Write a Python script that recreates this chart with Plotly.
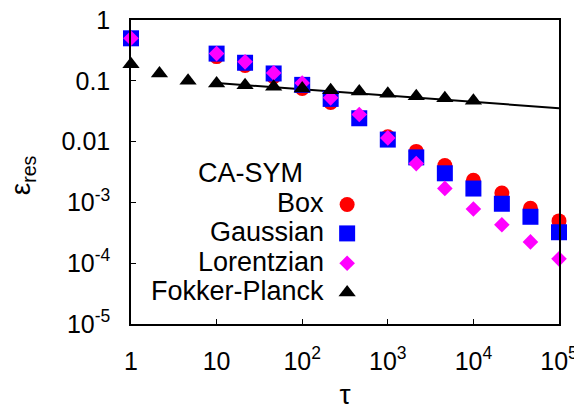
import plotly.graph_objects as go

# ---- data ----
tau = [1, 10, 21.5, 46.4, 100, 215, 464, 1000, 2150, 4640, 10000, 21500, 46400, 100000]
box = [0.5, 0.25, 0.178, 0.117, 0.0746, 0.044, 0.025, 0.012, 0.0069, 0.00403, 0.00231, 0.00143, 0.0008, 0.000496]
gaussian = [0.5, 0.28, 0.198, 0.132, 0.0857, 0.0504, 0.0242, 0.0108, 0.0055, 0.00301, 0.00169, 0.00095, 0.00058, 0.000323]
lorentzian = [0.5, 0.28, 0.205, 0.135, 0.092, 0.0524, 0.0279, 0.0115, 0.00435, 0.0017, 0.00078, 0.00043, 0.000224, 0.000118]

tau_fp = [1, 2.15, 4.64, 10, 21.5, 46.4, 100, 215, 464, 1000, 2150, 4640, 10000]
fokker_planck = [0.187, 0.132, 0.1, 0.09, 0.0845, 0.0795, 0.0746, 0.07, 0.0666, 0.061, 0.0557, 0.0516, 0.0468]

fit_x = [10, 100000]
fit_y = [0.092, 0.0354]

x_tickvals = [1, 10, 100, 1000, 10000, 100000]
x_ticktext = ["1", "10", "10<sup>2</sup>", "10<sup>3</sup>", "10<sup>4</sup>", "10<sup>5</sup>"]
y_tickvals = [1, 0.1, 0.01, 0.001, 0.0001, 0.00001]
y_ticktext = ["1", "0.1", "0.01", "10<sup>-3</sup>", "10<sup>-4</sup>", "10<sup>-5</sup>"]

legend_title = "CA-SYM"
series_names = ["Box", "Gaussian", "Lorentzian", "Fokker-Planck"]
x_title = "τ"
y_title = "ε<sub>res</sub>"

FONT = "Liberation Sans, Arial, sans-serif"
styles = [
    dict(symbol="circle", color="#FF0000", size=15),
    dict(symbol="square", color="#0000FF", size=16),
    dict(symbol="diamond", color="#FF00FF", size=12),
    dict(symbol="triangle-up", color="#000000", size=15),
]

fig = go.Figure()

fig.add_trace(go.Scatter(x=fit_x, y=fit_y, mode="lines",
                         line=dict(color="black", width=2), showlegend=False))

for xs, ys, st in [(tau, box, styles[0]), (tau, gaussian, styles[1]),
                   (tau, lorentzian, styles[2]), (tau_fp, fokker_planck, styles[3])]:
    fig.add_trace(go.Scatter(x=xs, y=ys, mode="markers", cliponaxis=False,
                             marker=dict(symbol=st["symbol"], color=st["color"], size=st["size"],
                                         line=dict(width=0)),
                             showlegend=False))

# ---- manual legend (text left of symbol, right-aligned) ----
leg_rows_y = [0.393, 0.298, 0.2, 0.104]
leg_marker_x = 0.505
leg_text_x = 0.455
for name, yy, st in zip(series_names, leg_rows_y, styles):
    fig.add_trace(go.Scatter(x=[leg_marker_x], y=[yy], xaxis="x2", yaxis="y2",
                             mode="markers", cliponaxis=False, showlegend=False,
                             marker=dict(symbol=st["symbol"], color=st["color"], size=st["size"],
                                         line=dict(width=0))))
    fig.add_annotation(x=leg_text_x, y=yy + 0.004, xref="paper", yref="paper",
                       text=name, showarrow=False, xanchor="right", yanchor="middle",
                       font=dict(family=FONT, size=27, color="black"))
fig.add_annotation(x=0.279, y=0.496, xref="paper", yref="paper", text=legend_title,
                   showarrow=False, xanchor="center", yanchor="middle",
                   font=dict(family=FONT, size=27, color="black"))

# y-axis title as rotated annotation
fig.add_annotation(x=-0.254, y=0.49, xref="paper", yref="paper", text=y_title,
                   showarrow=False, xanchor="center", yanchor="middle", textangle=-90,
                   font=dict(family=FONT, size=28, color="black"))

axis_common = dict(
    showgrid=False, zeroline=False, showline=True, linecolor="black", linewidth=1.5,
    mirror=True, ticks="inside", ticklen=5, tickcolor="black", tickwidth=1,
    tickfont=dict(family=FONT, size=25, color="black"), automargin=False,
    ticklabeloverflow="allow",
)

# page body has an 8px default margin, so the figure is 8px smaller and offset
fig.update_layout(
    width=574, height=402,
    margin=dict(l=123, r=23, t=12, b=86),
    paper_bgcolor="white", plot_bgcolor="white",
    font=dict(family=FONT, color="black"),
    xaxis=dict(type="log", range=[0, 5], tickvals=x_tickvals, ticktext=x_ticktext,
               ticklabelstandoff=14,
               title=dict(text=x_title, font=dict(family=FONT, size=28), standoff=23),
               **axis_common),
    yaxis=dict(type="log", range=[-5, 0], tickvals=y_tickvals, ticktext=y_ticktext,
               ticklabelstandoff=14,
               **axis_common),
    xaxis2=dict(overlaying="x", range=[0, 1], visible=False, fixedrange=True),
    yaxis2=dict(overlaying="y", range=[0, 1], visible=False, fixedrange=True),
    showlegend=False,
)

fig.write_html("out.html")
